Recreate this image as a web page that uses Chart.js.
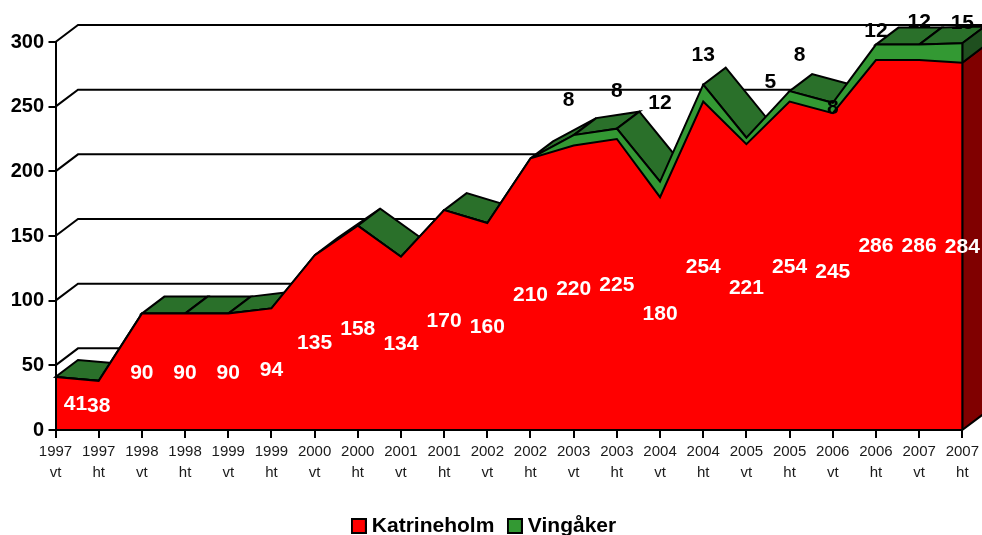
<!DOCTYPE html>
<html><head><meta charset="utf-8">
<style>html,body{margin:0;padding:0;background:#fff}#w{width:982px;height:535px;position:relative;overflow:hidden}</style>
<script src="https://cdn.jsdelivr.net/npm/chart.js@4"></script></head>
<body><div id="w"><canvas id="c" width="982" height="535"></canvas></div>
<script>
const years = ['1997','1997','1998','1998','1999','1999','2000','2000','2001','2001','2002','2002','2003','2003','2004','2004','2005','2005','2006','2006','2007','2007'];
const terms = ['vt','ht','vt','ht','vt','ht','vt','ht','vt','ht','vt','ht','vt','ht','vt','ht','vt','ht','vt','ht','vt','ht'];
const katrineholm = [41,38,90,90,90,94,135,158,134,170,160,210,220,225,180,254,221,254,245,286,286,284];
const vingaker = [0,0,0,0,0,0,0,0,0,0,0,0,8,8,12,13,5,8,8,12,12,15];
const seriesNames = ['Katrineholm','Vingåker'];
const yTicks = [0,50,100,150,200,250,300];

// label placement nudges (pixels) for the hand-placed value labels
const redNudgeX = {0:20};
const redNudgeY = 1;
const greenNudge = {12:[-5,-34.5],13:[0,-37.5],14:[0,-78.5],15:[0,-29.5],16:[24,-55.5],17:[10,-35.5],18:[0,5],19:[0,-13.5],20:[0,-22.5],21:[0,-20.5]};

const DX = 22.5, DY = -17;
const RED='#ff0000', GREEN='#339933', TOPG='#2a702a', SIDEG='#1f4f1f', SIDER='#800000', INK='#000';

function legendBox(col){
  const c=document.createElement('canvas');c.width=16;c.height=16;
  const x=c.getContext('2d');x.fillStyle=col;x.strokeStyle='#000';x.lineWidth=2;
  x.fillRect(1,1,14,14);x.strokeRect(1,1,14,14);return c;
}
const legendBoxes=[legendBox(RED),legendBox(GREEN)];

function poly(ctx,pts,fill){
  ctx.beginPath();pts.forEach((p,i)=>i?ctx.lineTo(p[0],p[1]):ctx.moveTo(p[0],p[1]));ctx.closePath();
  ctx.fillStyle=fill;ctx.fill();ctx.lineJoin='miter';ctx.lineWidth=2;ctx.strokeStyle=INK;ctx.stroke();
}
const depth3d={
  id:'depth3d',
  beforeDatasetsDraw(chart){
    const ctx=chart.ctx,xs=chart.scales.x,ys=chart.scales.y;
    ctx.save();
    ctx.strokeStyle=INK;ctx.lineWidth=2;
    const L=xs.left,R=xs.right;
    yTicks.forEach(v=>{
      const y=ys.getPixelForValue(v);
      ctx.beginPath();ctx.moveTo(L,y);ctx.lineTo(L+DX,y+DY);ctx.lineTo(R+DX,y+DY);
      ctx.stroke();
    });
    // top faces of the stack
    const n=katrineholm.length;
    for(let i=0;i<n-1;i++){
      const x0=xs.getPixelForValue(i),x1=xs.getPixelForValue(i+1);
      const y0=ys.getPixelForValue(katrineholm[i]+vingaker[i]),y1=ys.getPixelForValue(katrineholm[i+1]+vingaker[i+1]);
      // cross product: face is seen only when the edge rises less steeply than the depth direction
      if((y1-y0)*DX-(x1-x0)*DY>0){
        poly(ctx,[[x0,y0],[x1,y1],[x1+DX,y1+DY],[x0+DX,y0+DY]],TOPG);
      }
    }
    // right side
    const xe=xs.getPixelForValue(n-1),y0=ys.getPixelForValue(0),yr=ys.getPixelForValue(katrineholm[n-1]),yt=ys.getPixelForValue(katrineholm[n-1]+vingaker[n-1]);
    poly(ctx,[[xe,y0],[xe+DX,y0+DY],[xe+DX,yr+DY],[xe,yr]],SIDER);
    poly(ctx,[[xe,yr],[xe+DX,yr+DY],[xe+DX,yt+DY],[xe,yt]],SIDEG);
    ctx.restore();
  },
  afterDatasetsDraw(chart){
    const ctx=chart.ctx,xs=chart.scales.x,ys=chart.scales.y,n=katrineholm.length;
    ctx.save();
    const xe=xs.getPixelForValue(n-1);
    ctx.strokeStyle=INK;ctx.lineWidth=2;
    ctx.beginPath();ctx.moveTo(xe,ys.getPixelForValue(0));ctx.lineTo(xe,ys.getPixelForValue(katrineholm[n-1]+vingaker[n-1]));ctx.stroke();
    ctx.font='bold 21px "Liberation Sans", Arial, sans-serif';ctx.textAlign='center';ctx.textBaseline='middle';
    ctx.fillStyle='#fff';
    katrineholm.forEach((v,i)=>{
      ctx.fillText(String(v),xs.getPixelForValue(i)+(redNudgeX[i]||0),ys.getPixelForValue(v/2)+redNudgeY);
    });
    ctx.fillStyle='#000';
    vingaker.forEach((v,i)=>{
      if(!v)return;
      const nud=greenNudge[i]||[0,0];
      ctx.fillText(String(v),xs.getPixelForValue(i)+nud[0],ys.getPixelForValue(katrineholm[i]+v)+nud[1]);
    });
    ctx.restore();
  }
};
new Chart(document.getElementById('c'),{
  type:'line',
  data:{
    labels:years.map((y,i)=>[y,terms[i]]),
    datasets:[
      {label:seriesNames[0],data:katrineholm,backgroundColor:RED,borderColor:INK,borderWidth:2,fill:'origin',pointRadius:0,tension:0},
      {label:seriesNames[1],data:vingaker,backgroundColor:GREEN,borderColor:INK,borderWidth:2,fill:'-1',pointRadius:0,tension:0}
    ]
  },
  options:{
    responsive:false,animation:false,
    layout:{padding:{top:42,left:9,right:18.5,bottom:-11.5}},
    scales:{
      x:{offset:false,stacked:true,
        grid:{drawOnChartArea:false,color:INK,lineWidth:2,tickLength:8},
        border:{color:INK,width:2,z:1},
        ticks:{autoSkip:false,maxRotation:0,minRotation:0,padding:3,color:'#1a1a1a',font:{family:'"Liberation Sans"',size:15,lineHeight:1.43}},
        afterFit(s){s.height=67.5;}
      },
      y:{stacked:true,min:0,max:300,
        grid:{drawOnChartArea:false,color:INK,lineWidth:2,tickLength:7},
        border:{color:INK,width:2,z:1},
        ticks:{stepSize:50,padding:4.5,color:INK,font:{family:'"Liberation Sans"',size:20,weight:'bold'}},
        afterFit(s){s.width=46.5;}
      }
    },
    plugins:{
      tooltip:{enabled:false},
      legend:{position:'bottom',
        labels:{usePointStyle:true,pointStyleWidth:5,boxHeight:15,padding:18,color:INK,
          font:{family:'"Liberation Sans"',size:21,weight:'bold'},
          generateLabels(chart){
            return Chart.defaults.plugins.legend.labels.generateLabels(chart).map((it,i)=>Object.assign(it,{pointStyle:legendBoxes[i],fontColor:INK}));
          }}
      }
    }
  },
  plugins:[depth3d]
});
</script></body></html>
